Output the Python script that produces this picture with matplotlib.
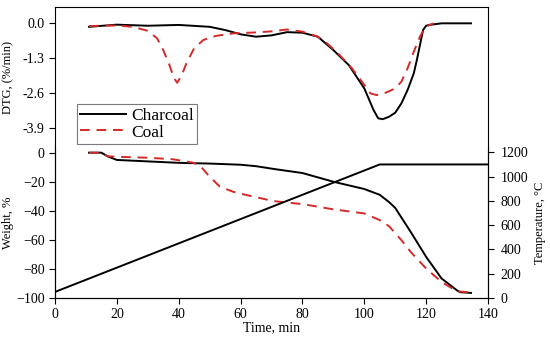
import numpy as np
import matplotlib; matplotlib.use("Agg")
import matplotlib.pyplot as plt

plt.rcParams["font.family"] = ["Liberation Serif", "DejaVu Serif"]
plt.rcParams["font.size"] = 10

# DTG (top panel), %/min
dtg_char_t = [11, 20, 30, 40, 50, 55, 60, 65, 70, 75, 80, 85, 90, 95, 100, 103, 104.5, 106, 108, 110,
              112, 114, 116, 117, 118, 119, 120, 121, 125, 134.5]
dtg_char_v = [-0.13, -0.05, -0.09, -0.06, -0.13, -0.25, -0.41, -0.50, -0.45, -0.33, -0.35, -0.50, -1.0, -1.56,
              -2.43, -3.24, -3.55, -3.58, -3.49, -3.34, -2.99, -2.49, -1.87, -1.37, -0.81, -0.25, -0.09, -0.06,
              0.0, 0.0]
dtg_coal_t = [11, 20, 25, 30, 33, 35, 37, 38.5, 39.5, 41, 42.5, 45, 48, 52, 58, 65, 70, 75, 80, 85, 88,
              92, 96, 100, 102, 104, 107, 110, 112, 114, 116, 118, 119.5, 121, 122.5]
dtg_coal_v = [-0.10, -0.08, -0.13, -0.28, -0.56, -1.0, -1.56, -2.05, -2.22, -1.93, -1.49, -0.93, -0.62, -0.47,
              -0.37, -0.34, -0.30, -0.23, -0.31, -0.50, -0.75, -1.18, -1.68, -2.30, -2.62, -2.68, -2.59, -2.43,
              -2.18, -1.68, -1.06, -0.50, -0.19, -0.06, 0.0]

# Weight (bottom panel), %
wt_char_t = [11, 15, 17, 20, 30, 40, 50, 60, 65, 71, 80, 90, 100, 105, 108, 110, 115, 120, 125, 130, 131, 134.5]
wt_char_v = [0, 0, -2.5, -5, -6, -7, -7.5, -8.3, -9.3, -11.3, -14, -20, -25, -29, -34, -38, -54.5, -71.7,
             -86.6, -94.8, -96, -96.5]
wt_coal_t = [11, 15, 17, 20, 30, 38, 44.7, 46.9, 50, 53.3, 57.6, 62, 70.6, 80, 90, 100, 105, 108, 112, 115,
             120, 125, 130, 133, 134.5]
wt_coal_v = [0, 0, -2.5, -2.8, -3.5, -4.5, -6.9, -9, -16.5, -23.4, -26.9, -29.2, -33.3, -35.4, -39, -41.8,
             -46.4, -50.6, -60.2, -68.3, -79.7, -89, -95.4, -95.9, -96.5]

# Furnace temperature, °C
temp_t = [0, 105, 140]
temp_v = [50, 1100, 1100]

RED = "#d42a2a"
W, H = 550, 338
fig = plt.figure(figsize=(W / 100, H / 100), dpi=100)
L, R = 55 / W, 488 / W
ymid, ytop, ybot = 1 - 147 / H, 1 - 7 / H, 1 - 298 / H

axt = fig.add_axes([L, ymid, R - L, ytop - ymid])
axb = fig.add_axes([L, ybot, R - L, ymid - ybot], sharex=axt)
axr = axb.twinx()

lc, = axt.plot(dtg_char_t, dtg_char_v, color="black", lw=1.4, label="Charcoal")
lk, = axt.plot(dtg_coal_t, dtg_coal_v, color=RED, lw=1.4, ls=(0, (5, 3.5)), label="Coal")
axt.set_ylim(-4.62, 0.61)
axt.set_yticks([0.0, -1.3, -2.6, -3.9])
axt.set_yticklabels(["0.0", "-1.3", "-2.6", "-3.9"])
axt.spines["bottom"].set_visible(False)
axt.tick_params(axis="x", bottom=False, labelbottom=False)
axt.tick_params(axis="y", direction="out", length=4)
axt.set_ylabel("DTG, (%/min)", fontsize=9)
axt.yaxis.set_label_coords(-0.095, 0.5)
leg = axt.legend(handles=[lc, lk], loc="lower left", bbox_to_anchor=(77 / W, 1 - 144 / H),
                 bbox_transform=fig.transFigure, fontsize=12.5,
                 frameon=True, fancybox=False, edgecolor="0.35", handlelength=2.6,
                 borderpad=0.2, labelspacing=0.02, handletextpad=0.3, borderaxespad=0)
leg.get_frame().set_linewidth(0.8)

axb.plot(wt_char_t, wt_char_v, color="black", lw=1.4)
axb.plot(wt_coal_t, wt_coal_v, color=RED, lw=1.4, ls=(0, (5, 3.5)))
axb.set_xlim(0, 140)
axb.set_xticks(np.arange(0, 141, 20))
axb.set_ylim(-100, 3.9)
axb.set_yticks(np.arange(0, -101, -20))
axb.spines["top"].set_visible(False)
axb.tick_params(direction="out", length=4)
axb.set_xlabel("Time, min", labelpad=0)
axb.set_ylabel("Weight, %", fontsize=9)
axb.yaxis.set_label_coords(-0.095, 0.5)

axr.plot(temp_t, temp_v, color="black", lw=1.4)
axr.set_ylim(0, 1243.7)
axr.set_yticks(np.arange(0, 1201, 200))
axr.spines["top"].set_visible(False)
axr.tick_params(direction="out", length=4, pad=5)
axr.set_ylabel("Temperature, °C", fontsize=9, labelpad=4)

fig.savefig("out.png", dpi=100)
